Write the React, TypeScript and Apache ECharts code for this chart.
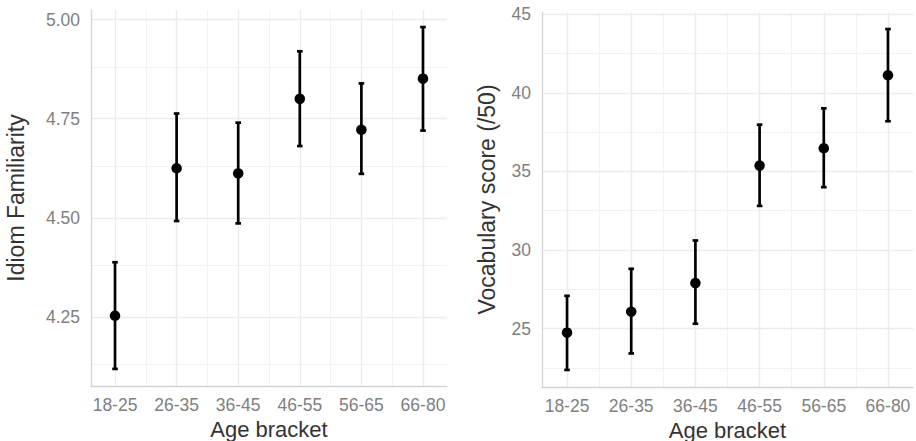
import React, { useEffect, useRef } from "react";
import * as echarts from "echarts";

const categories = ["18-25", "26-35", "36-45", "46-55", "56-65", "66-80"];
const idiomMean = [4.253, 4.625, 4.612, 4.8, 4.722, 4.851];
const idiomLow = [4.119, 4.492, 4.486, 4.681, 4.611, 4.72];
const idiomHigh = [4.388, 4.763, 4.74, 4.92, 4.839, 4.981];
const vocabMean = [24.75, 26.08, 27.9, 35.37, 36.47, 41.11];
const vocabLow = [22.38, 23.43, 25.32, 32.81, 34.0, 38.19];
const vocabHigh = [27.09, 28.81, 30.61, 37.97, 39.01, 44.05];
const idiomTicks = [4.25, 4.5, 4.75, 5.0];
const idiomMinor = [4.125, 4.375, 4.625, 4.875];
const vocabTicks = [25, 30, 35, 40, 45];
const vocabMinor = [22.5, 27.5, 32.5, 37.5, 42.5];
const xMajor = [0, 1, 2, 3, 4, 5];
const xMinor = [0.5, 1.5, 2.5, 3.5, 4.5];

const FONT = "'Liberation Sans', Arial, sans-serif";
const TICK_COLOR = "#7f7f7f";
const TITLE_COLOR = "#333333";
const GRID_COLOR = "#ebebeb";
const MINOR_COLOR = "#f2f2f2";
const AXIS_COLOR = "#d4d4d4";

function expand(lo: number[], hi: number[]) {
  const a = Math.min(...lo);
  const b = Math.max(...hi);
  const r = b - a;
  return [a - 0.05 * r, b + 0.05 * r];
}

function buildPanel(
  idx: number,
  mean: number[],
  low: number[],
  high: number[],
  ticks: number[],
  minor: number[],
  yName: string,
  nameGap: number,
  xNameGap: number,
  decimals: number
) {
  const [ymin, ymax] = expand(low, high);
  const xAxis = {
    type: "value",
    gridIndex: idx,
    min: -0.39,
    max: 5.39,
    name: "Age bracket",
    nameLocation: "middle",
    nameGap: xNameGap,
    nameTextStyle: { fontSize: 22, lineHeight: 22, color: TITLE_COLOR, fontFamily: FONT },
    axisLine: { show: true, onZero: false, lineStyle: { color: AXIS_COLOR, width: 1.3 } },
    axisTick: { show: false },
    splitLine: { show: false },
    axisLabel: {
      customValues: xMajor,
      formatter: (v: number) => categories[Math.round(v)] ?? "",
      fontSize: 17.5,
      color: TICK_COLOR,
      fontFamily: FONT,
      margin: 10,
    },
  };
  const yAxis = {
    type: "value",
    gridIndex: idx,
    min: ymin,
    max: ymax,
    name: yName,
    nameLocation: "middle",
    nameGap,
    nameTextStyle: { fontSize: 23, color: TITLE_COLOR, fontFamily: FONT },
    axisLine: { show: true, onZero: false, lineStyle: { color: AXIS_COLOR, width: 1.3 } },
    axisTick: { show: false },
    splitLine: { show: false },
    axisLabel: {
      customValues: ticks,
      formatter: (v: number) => v.toFixed(decimals),
      fontSize: 17.5,
      color: TICK_COLOR,
      fontFamily: FONT,
      margin: 11,
    },
  };
  const gridLines = {
    type: "scatter",
    xAxisIndex: idx,
    yAxisIndex: idx,
    data: [],
    z: 0,
    silent: true,
    markLine: {
      silent: true,
      z: 0,
      zlevel: 0,
      symbol: "none",
      label: { show: false },
      animation: false,
      data: [
        ...minor.map((v) => ({ yAxis: v, lineStyle: { color: MINOR_COLOR, width: 1, type: "solid", opacity: 1 } })),
        ...xMinor.map((v) => ({ xAxis: v, lineStyle: { color: MINOR_COLOR, width: 1, type: "solid", opacity: 1 } })),
        ...ticks.map((v) => ({ yAxis: v, lineStyle: { color: GRID_COLOR, width: 1.3, type: "solid", opacity: 1 } })),
        ...xMajor.map((v) => ({ xAxis: v, lineStyle: { color: GRID_COLOR, width: 1.3, type: "solid", opacity: 1 } })),
      ],
    },
  };
  const errorBars = {
    type: "custom",
    xAxisIndex: idx,
    yAxisIndex: idx,
    z: 10,
    silent: true,
    data: mean.map((_, i) => [i, low[i], high[i]]),
    encode: { x: 0, y: [1, 2] },
    renderItem: (params: any, api: any) => {
      const x = api.value(0);
      const lo = api.coord([x, api.value(1)]);
      const hi = api.coord([x, api.value(2)]);
      const half = 2.8;
      const mk = () => ({ stroke: "#000000", lineWidth: 2.7, fill: "none", opacity: 1 });
      return {
        type: "group",
        children: [
          { type: "line", shape: { x1: lo[0], y1: lo[1], x2: hi[0], y2: hi[1] }, style: mk() },
          { type: "line", shape: { x1: lo[0] - half, y1: lo[1], x2: lo[0] + half, y2: lo[1] }, style: mk() },
          { type: "line", shape: { x1: hi[0] - half, y1: hi[1], x2: hi[0] + half, y2: hi[1] }, style: mk() },
        ],
      };
    },
  };
  const points = {
    type: "scatter",
    xAxisIndex: idx,
    yAxisIndex: idx,
    z: 11,
    silent: true,
    symbol: "circle",
    symbolSize: 10.5,
    itemStyle: { color: "#000000", opacity: 1 },
    data: mean.map((v, i) => [i, v]),
  };
  return { xAxis, yAxis, series: [gridLines, errorBars, points] };
}

export default function App() {
  const ref = useRef<HTMLDivElement>(null);
  useEffect(() => {
    if (!ref.current) return;
    const chart = echarts.init(ref.current, undefined, { renderer: "svg" });
    const left = buildPanel(0, idiomMean, idiomLow, idiomHigh, idiomTicks, idiomMinor, "Idiom Familiarity", 63.5, 27, 2);
    const right = buildPanel(1, vocabMean, vocabLow, vocabHigh, vocabTicks, vocabMinor, "Vocabulary score (/50)", 44, 25.5, 0);
    chart.setOption({
      animation: false,
      backgroundColor: "#ffffff",
      textStyle: { fontFamily: FONT },
      grid: [
        { left: 91, top: 10, width: 356, height: 376, containLabel: false, outerBoundsMode: "none" },
        { left: 542, top: 12, width: 371, height: 375, containLabel: false, outerBoundsMode: "none" },
      ],
      xAxis: [left.xAxis, right.xAxis],
      yAxis: [left.yAxis, right.yAxis],
      series: [...left.series, ...right.series],
    });
    return () => chart.dispose();
  }, []);
  return (
    <div
      ref={ref}
      style={{ position: "fixed", left: 0, top: 0, width: 916, height: 441 }}
    />
  );
}
